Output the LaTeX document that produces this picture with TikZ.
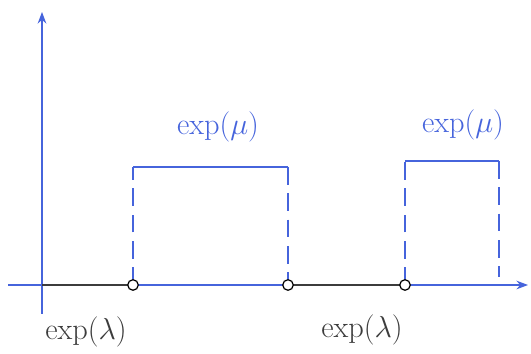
\documentclass[tikz,border=0pt]{standalone}
\usepackage{amsmath, amssymb}
\usepackage{tikz}
\usetikzlibrary{arrows.meta}

\definecolor{penblue}{RGB}{70,100,220}
\definecolor{pengray}{RGB}{60,60,60}

\begin{document}
\begin{tikzpicture}[x=0.02cm, y=-0.02cm, >=Stealth, line width=0.8pt,
    bar/.style={penblue, line width=1pt},
    wait/.style={pengray, line width=1.3pt},
    hole/.style={circle, draw=black, fill=white, line width=0.7pt, inner sep=0pt, minimum size=6pt},
    lbl/.style={font=\LARGE}]
  \useasboundingbox (0,0) rectangle (531,354);

  % axes
  \coordinate (o) at (42,285);
  \coordinate (ybot) at (42,314);
  \coordinate (ytop) at (42,12);
  \coordinate (xleft) at (8,285);
  \coordinate (xright) at (528,285);
  \draw[penblue, ->] (ybot) -- (ytop);
  \draw[penblue, ->] (xleft) -- (xright);

  % switching points on the time axis
  \coordinate (t1) at (133,285);
  \coordinate (t2) at (288,285);
  \coordinate (t3) at (405,285);

  % off periods
  \draw[wait] (o) -- (t1);
  \draw[wait] (t2) -- (t3);

  % on periods
  \coordinate (a1) at (133,167);
  \coordinate (b1) at (288,167);
  \coordinate (a2) at (405,161);
  \coordinate (b2) at (499,161);
  \coordinate (c2) at (499,277);
  \draw[bar, dashed, dash pattern=on 10pt off 5pt] (t1) -- (a1);
  \draw[bar] (a1) -- (b1);
  \draw[bar, dashed, dash pattern=on 10pt off 5pt] (b1) -- (t2);
  \draw[bar, dashed, dash pattern=on 10pt off 5pt] (t3) -- (a2);
  \draw[bar] (a2) -- (b2);
  \draw[bar, dashed, dash pattern=on 10pt off 5pt] (b2) -- (c2);

  % holes
  \node[hole] (h1) at (t1) {};
  \node[hole] (h2) at (t2) {};
  \node[hole] (h3) at (t3) {};

  % labels
  \node[lbl, penblue] (mu1) at (218,127) {exp$(\mu)$};
  \node[lbl, penblue] (mu2) at (463,125) {exp$(\mu)$};
  \node[lbl, pengray] (la1) at (86,332) {exp$(\lambda)$};
  \node[lbl, pengray] (la2) at (362,330) {exp$(\lambda)$};
\end{tikzpicture}
\end{document}
